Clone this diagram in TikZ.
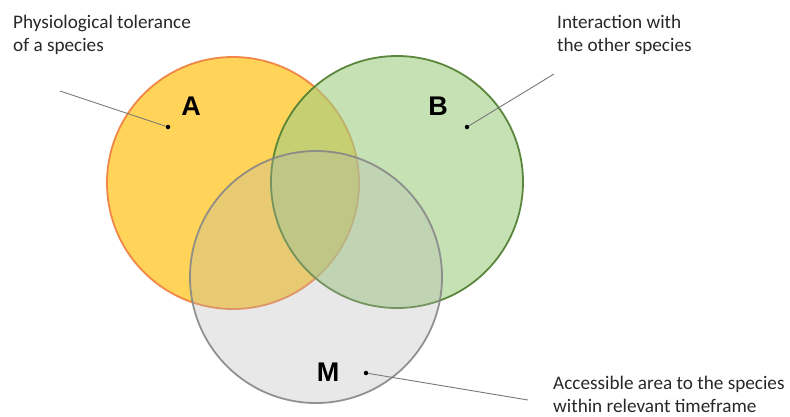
\documentclass[tikz,border=0pt]{standalone}
\usepackage{fontspec}
\setmainfont{Carlito}
\newfontfamily\labfont{Liberation Sans}
\definecolor{afill}{RGB}{255,212,88}
\definecolor{aedge}{RGB}{240,135,70}
\definecolor{bfill}{RGB}{160,205,130}
\definecolor{bedge}{RGB}{84,130,53}
\definecolor{mfill}{RGB}{180,180,180}
\definecolor{medge}{RGB}{135,135,135}
\definecolor{txt}{RGB}{40,40,40}
\definecolor{leader}{RGB}{120,120,120}
\tikzset{
  setc/.style={circle, inner sep=0pt, minimum size=252pt, line width=1.8pt},
  dotst/.style={circle, fill=black, inner sep=0pt, minimum size=4.5pt},
  lab/.style={font=\labfont\bfseries\fontsize{27}{30}\selectfont, text=black},
  note/.style={font=\fontsize{19.2}{23}\selectfont, text=txt, align=left, anchor=base west, inner sep=0pt},
  leadline/.style={draw=leader, line width=0.9pt}
}
\begin{document}
\begin{tikzpicture}[x=1pt,y=-1pt]
\useasboundingbox (0,0) rectangle (790,416);
\node[setc, fill=afill, draw=aedge] (A) at (233,183) {};
\node[setc, fill=bfill, fill opacity=0.6, draw=bedge, draw opacity=0.95] (B) at (397,182) {};
\node[setc, fill=mfill, fill opacity=0.3, draw=medge, draw opacity=0.9] (M) at (316,277) {};
\node[lab] (la) at (191,106) {A};
\node[lab] (lb) at (438,106) {B};
\node[lab] (lm) at (328,372) {M};
\node[dotst] (dA) at (168,127) {};
\node[dotst] (dB) at (467,127) {};
\node[dotst] (dM) at (366,373) {};
\coordinate (eA) at (60,91);
\coordinate (eB) at (554,74);
\coordinate (eM) at (528,400);
\draw[leadline] (eA) -- (dA);
\draw[leadline] (eB) -- (dB);
\draw[leadline] (eM) -- (dM);
\node[note] (tA) at (13,51) {Physiological tolerance\\of a species};
\node[note] (tB) at (557,51) {Interaction with\\the other species};
\node[note] (tM) at (553,412) {Accessible area to the species\\within relevant timeframe};
\end{tikzpicture}
\end{document}
